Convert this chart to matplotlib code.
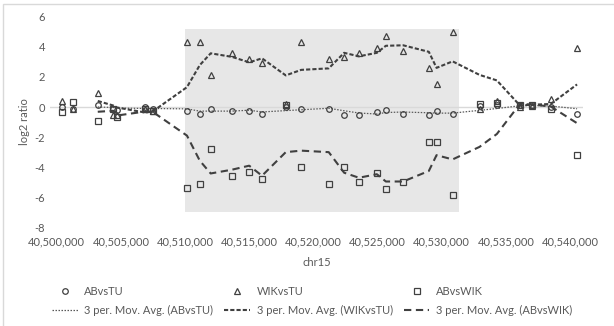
import matplotlib
matplotlib.use("Agg")
import matplotlib.pyplot as plt
import numpy as np
import pandas as pd
from matplotlib.ticker import FuncFormatter, MultipleLocator
from matplotlib.patches import Rectangle

# ---------------- data ----------------
positions = [40500400, 40501300, 40503200, 40504400, 40504700, 40506900, 40507500,
             40510150, 40511150, 40512000, 40513650, 40515000, 40516000, 40517850,
             40519050, 40521200, 40522400, 40523550, 40524950, 40525650, 40527000,
             40529000, 40529600, 40530850, 40532950, 40534300, 40536100, 40537000,
             40538500, 40540550]

ab_vs_tu = [0.0, -0.1, 0.1, -0.1, -0.2, 0.0, -0.1, -0.27, -0.45, -0.1, -0.27, -0.27,
            -0.45, 0.0, -0.1, -0.15, -0.5, -0.55, -0.35, -0.2, -0.45, -0.5, -0.27,
            -0.45, 0.05, 0.1, 0.1, 0.1, 0.0, -0.45]

wik_vs_tu = [0.4, -0.1, 0.9, -0.5, -0.5, -0.1, -0.25, 4.3, 4.3, 2.1, 3.6, 3.2, 2.9,
             0.2, 4.3, 3.2, 3.3, 3.6, 3.9, 4.7, 3.7, 2.6, 1.5, 5.0, -0.1, 0.4, 0.0,
             0.05, 0.55, 3.9]

ab_vs_wik = [-0.35, 0.3, -0.9, -0.15, -0.65, -0.1, -0.25, -5.35, -5.1, -2.8, -4.6,
             -4.3, -4.8, 0.1, -4.0, -5.1, -4.0, -5.0, -4.4, -5.45, -5.0, -2.3, -2.3,
             -5.85, 0.2, 0.27, 0.13, 0.1, -0.13, -3.2]

series_names = ["ABvsTU", "WIKvsTU", "ABvsWIK"]
highlight_x = [40510000, 40531330]
highlight_y = [-7.0, 5.18]

# ---------------- style ----------------
plt.rcParams["font.family"] = ["Lato", "DejaVu Sans"]
plt.rcParams["axes.unicode_minus"] = False
txt = "#595959"
ink = "#404040"
FS = 8

W, H = 614, 326
fig = plt.figure(figsize=(W / 100, H / 100), dpi=100)
ax_left, ax_right, ax_top, ax_bot = 50, 583, 16.7, 227.4
ax = fig.add_axes([ax_left / W, 1 - ax_bot / H, (ax_right - ax_left) / W, (ax_bot - ax_top) / H])

# chart border
fig.patches.append(Rectangle((3 / W, -0.1), 1.2, 1 - 4 / H + 0.1, transform=fig.transFigure,
                             fill=False, edgecolor="#D9D9D9", linewidth=1.0))

x = np.array(positions)
mk = dict(linestyle="none", markerfacecolor="none", markeredgecolor=ink,
          markeredgewidth=0.9, markersize=4.0, zorder=4)
h1, = ax.plot(x, ab_vs_tu, marker="o", label=series_names[0], **mk)
h2, = ax.plot(x, wik_vs_tu, marker="^", label=series_names[1], **mk)
h3, = ax.plot(x, ab_vs_wik, marker="s", label=series_names[2], **mk)

ma1 = pd.Series(ab_vs_tu).rolling(3).mean()
ma2 = pd.Series(wik_vs_tu).rolling(3).mean()
ma3 = pd.Series(ab_vs_wik).rolling(3).mean()
l1, = ax.plot(x, ma1, color="#595959", linewidth=0.9, dashes=(1.2, 1.2),
              label="3 per. Mov. Avg. (ABvsTU)", zorder=3)
l2, = ax.plot(x, ma2, color=ink, linewidth=1.5, dashes=(2.0, 1.0),
              label="3 per. Mov. Avg. (WIKvsTU)", zorder=3)
l3, = ax.plot(x, ma3, color=ink, linewidth=1.5, dashes=(3.5, 2.2),
              label="3 per. Mov. Avg. (ABvsWIK)", zorder=3)

ax.add_patch(Rectangle((highlight_x[0], highlight_y[0]), highlight_x[1] - highlight_x[0],
                       highlight_y[1] - highlight_y[0], facecolor="#E7E7E7",
                       edgecolor="none", zorder=0))
ax.axhline(0, color="#D9D9D9", linewidth=1.0, zorder=1)

ax.set_xlim(40499478, 40541013)
ax.set_ylim(-8, 6)
ax.xaxis.set_major_locator(MultipleLocator(5000))
ax.yaxis.set_major_locator(MultipleLocator(2))
ax.xaxis.set_major_formatter(FuncFormatter(lambda v, p: f"{v:,.0f}"))
ax.yaxis.set_major_formatter(FuncFormatter(lambda v, p: f"{v:.0f}"))
ax.tick_params(axis="both", length=0, labelsize=FS, labelcolor=txt)
ax.tick_params(axis="x", pad=6.5)
ax.tick_params(axis="y", pad=3.6)
for s in ax.spines.values():
    s.set_visible(False)
ax.set_facecolor("none")

ax.set_ylabel("log2 ratio", fontsize=FS, color=txt)
ax.yaxis.set_label_coords((25 - ax_left) / (ax_right - ax_left), 0.5)
ax.set_xlabel("chr15", fontsize=FS, color=txt)
ax.xaxis.set_label_coords(0.5, (ax_bot - 262) / (ax_bot - ax_top))
ax.xaxis.label.set_va("center")
ax.yaxis.label.set_va("center")

leg = fig.legend(handles=[h1, l1, h2, l2, h3, l3], ncol=3, loc="upper left",
                 bbox_to_anchor=(52 / W, 1 - 286 / H), frameon=False, fontsize=FS,
                 borderpad=0, borderaxespad=0, handlelength=2.3, handletextpad=0.6,
                 columnspacing=1.0, labelspacing=0.75, labelcolor=txt)

fig.savefig("out.png", dpi=100)
